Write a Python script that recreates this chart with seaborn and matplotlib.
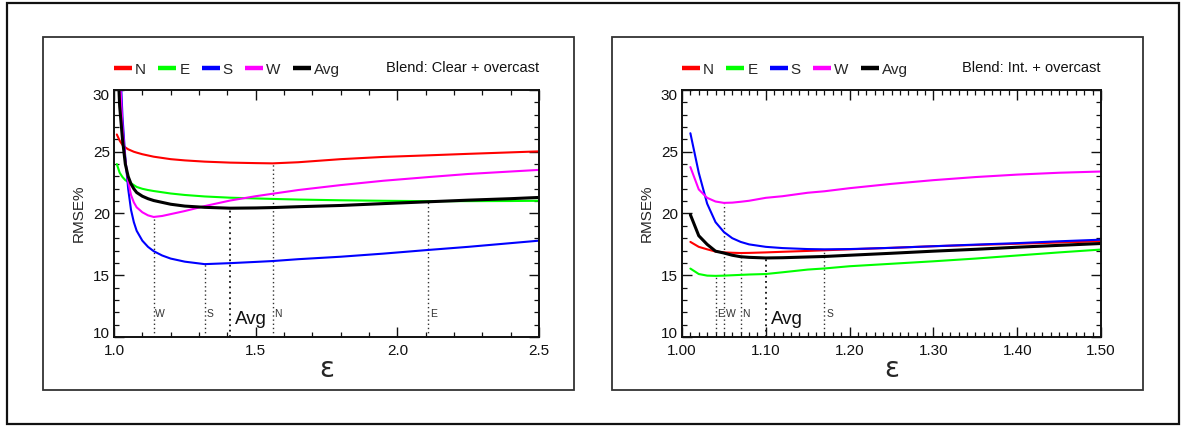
import numpy as np
import pandas as pd
import matplotlib
matplotlib.use("Agg")
import matplotlib.pyplot as plt
import matplotlib.transforms as mtrans
import seaborn as sns
from matplotlib.lines import Line2D
from matplotlib.patches import Rectangle
from matplotlib.ticker import MultipleLocator, FormatStrFormatter

# ---- Blend: clear + overcast -------------------------------------------
eps_a = [1.01, 1.02, 1.03, 1.04, 1.05, 1.06, 1.07, 1.08, 1.10, 1.12, 1.14,
         1.17, 1.20, 1.25, 1.32, 1.41, 1.50, 1.56, 1.65, 1.80, 1.95, 2.11,
         2.25, 2.40, 2.50]
n_a = [26.4, 25.9, 25.55, 25.35, 25.2, 25.1, 25.0, 24.93, 24.8, 24.7, 24.6,
       24.5, 24.4, 24.3, 24.2, 24.12, 24.08, 24.06, 24.15, 24.4, 24.58, 24.71,
       24.83, 24.95, 25.03]
e_a = [24.0, 23.3, 22.95, 22.7, 22.55, 22.45, 22.3, 22.15, 22.0, 21.9, 21.82,
       21.72, 21.62, 21.5, 21.38, 21.28, 21.22, 21.18, 21.13, 21.07, 21.03, 21.0,
       21.0, 21.01, 21.03]
s_a = [45.0, 33.0, 27.8, 24.5, 22.0, 20.3, 19.3, 18.6, 17.8, 17.3, 16.95,
       16.6, 16.35, 16.1, 15.9, 15.98, 16.08, 16.15, 16.3, 16.5, 16.75, 17.05,
       17.3, 17.6, 17.8]
w_a = [42.0, 31.5, 27.0, 24.3, 22.6, 21.5, 20.9, 20.5, 20.1, 19.85, 19.72,
       19.8, 19.95, 20.2, 20.6, 21.05, 21.4, 21.6, 21.9, 22.3, 22.65, 22.95,
       23.2, 23.4, 23.53]
avg_a = [34.0, 28.7, 26.0, 24.0, 23.0, 22.4, 22.0, 21.7, 21.4, 21.2, 21.05,
         20.9, 20.75, 20.6, 20.5, 20.43, 20.45, 20.48, 20.55, 20.65, 20.8, 20.95,
         21.08, 21.2, 21.3]
best_a = {"W": 1.14, "S": 1.32, "Avg": 1.41, "N": 1.56, "E": 2.11}

# ---- Blend: intermediate + overcast ------------------------------------
eps_b = [1.01, 1.02, 1.03, 1.04, 1.05, 1.06, 1.07, 1.08, 1.10, 1.12, 1.15,
         1.17, 1.20, 1.25, 1.30, 1.35, 1.40, 1.45, 1.50]
n_b = [17.7, 17.3, 17.1, 16.92, 16.85, 16.82, 16.8, 16.81, 16.85, 16.9, 16.97,
       17.02, 17.1, 17.22, 17.35, 17.45, 17.55, 17.65, 17.75]
e_b = [15.54, 15.1, 14.97, 14.95, 14.97, 15.0, 15.03, 15.06, 15.1, 15.24, 15.46,
       15.55, 15.73, 15.93, 16.13, 16.35, 16.6, 16.85, 17.08]
s_b = [26.5, 23.3, 20.8, 19.3, 18.5, 18.0, 17.7, 17.5, 17.3, 17.2, 17.12,
       17.1, 17.12, 17.22, 17.35, 17.48, 17.6, 17.75, 17.88]
w_b = [23.76, 21.95, 21.27, 20.97, 20.86, 20.88, 20.95, 21.03, 21.27, 21.4, 21.68,
       21.8, 22.05, 22.4, 22.7, 22.95, 23.15, 23.3, 23.4]
avg_b = [19.9, 18.2, 17.5, 16.95, 16.8, 16.62, 16.5, 16.45, 16.4, 16.42, 16.48,
         16.52, 16.62, 16.78, 16.95, 17.1, 17.27, 17.42, 17.57]
best_b = {"E": 1.04, "W": 1.05, "N": 1.07, "Avg": 1.10, "S": 1.17}

names = ["N", "E", "S", "W", "Avg"]
colors = {"N": "#ff0000", "E": "#00ff00", "S": "#0000ff", "W": "#ff00ff", "Avg": "#000000"}
widths = {"N": 1.5, "E": 1.5, "S": 1.5, "W": 1.5, "Avg": 2.2}

sns.set_theme(style="ticks")
plt.rcParams["font.family"] = ["Liberation Sans", "DejaVu Sans"]
plt.rcParams["axes.linewidth"] = 1.4

fig = plt.figure(figsize=(11.83, 4.26), dpi=100)
W, H = 1183, 426


def px_rect(x0, y0, x1, y1):
    return [x0 / W, (H - y1) / H, (x1 - x0) / W, (y1 - y0) / H]


# outer frame and the two panel frames
outer = px_rect(7, 3, 1179, 424)
fig.add_artist(Rectangle(outer[:2], outer[2], outer[3], transform=fig.transFigure,
                         fill=False, lw=1.6, ec="#111111"))
for box in (px_rect(43, 37, 574, 390), px_rect(612, 37, 1143, 390)):
    fig.add_artist(Rectangle(box[:2], box[2], box[3], transform=fig.transFigure,
                             fill=False, lw=1.3, ec="#333333"))

ax_a = fig.add_axes(px_rect(114, 90, 539, 337))
ax_b = fig.add_axes(px_rect(682, 90, 1101, 337))


def draw_panel(ax, eps, series, best, xlim, xmajor, xminor, fmt, blend):
    df = pd.DataFrame({"eps": eps, **series})
    for name in names:
        sns.lineplot(data=df, x="eps", y=name, ax=ax, color=colors[name],
                     lw=widths[name], estimator=None, sort=False, legend=False)
    # dotted markers at each curve's best epsilon
    for name, xb in best.items():
        top = float(np.interp(xb, df["eps"], df[name]))
        is_avg = name == "Avg"
        ax.vlines(xb, 10, top, colors="#111111" if is_avg else "#333333",
                  linestyles=(0, (1, 2)), lw=1.3 if is_avg else 1.0, zorder=1)
        if is_avg:
            ax.annotate("Avg", (xb, 11.4), xytext=(3.5, 0), textcoords="offset points",
                        ha="left", va="center", fontsize=13.5, color="#111111")
        else:
            ax.annotate(name, (xb, 11.85), xytext=(1.2, 0), textcoords="offset points",
                        ha="left", va="center", fontsize=7.5, color="#333333")

    ax.set_xlim(*xlim)
    ax.set_ylim(10, 30)
    ax.xaxis.set_major_locator(MultipleLocator(xmajor))
    ax.xaxis.set_minor_locator(MultipleLocator(xminor))
    ax.xaxis.set_major_formatter(FormatStrFormatter(fmt))
    ax.yaxis.set_major_locator(MultipleLocator(5))
    ax.yaxis.set_minor_locator(MultipleLocator(1))
    ax.tick_params(which="both", direction="in", top=True, right=True,
                   colors="#111111", labelsize=11)
    ax.tick_params(which="major", length=7, width=1.0, pad=5)
    ax.tick_params(which="minor", length=3.5, width=0.9)
    ax.tick_params(axis="y", which="major", pad=3)
    for sp in ax.spines.values():
        sp.set_color("#111111")
        sp.set_visible(True)
    ax.set_xlabel("ε", fontsize=20, labelpad=-2, family=["DejaVu Sans"])
    ax.set_ylabel("RMSE%", fontsize=11, labelpad=5)

    handles = [Line2D([], [], color=colors[n], lw=3.2, solid_capstyle="butt") for n in names]
    ax.legend(handles, names, ncol=5, loc="center left", bbox_to_anchor=(0.0, 1.082),
              frameon=False, fontsize=11, handlelength=1.18, handletextpad=0.2,
              columnspacing=0.8, borderaxespad=0, borderpad=0)
    ax.text(1.0, 1.09, blend, transform=ax.transAxes, ha="right", va="center",
            fontsize=10.5, color="#111111")


draw_panel(ax_a, eps_a, {"N": n_a, "E": e_a, "S": s_a, "W": w_a, "Avg": avg_a},
           best_a, (1.0, 2.5), 0.5, 0.1, "%.1f", "Blend: Clear + overcast")
draw_panel(ax_b, eps_b, {"N": n_b, "E": e_b, "S": s_b, "W": w_b, "Avg": avg_b},
           best_b, (1.0, 1.5), 0.1, 0.01, "%.2f", "Blend: Int. + overcast")

# keep the end labels of the y axis inside the frame
fig.canvas.draw()
for ax in (ax_a, ax_b):
    for tick in ax.yaxis.get_major_ticks():
        val = tick.get_loc()
        if np.isclose(val, 30):
            tick.label1.set_transform(tick.label1.get_transform()
                                      + mtrans.ScaledTranslation(0, -3 / 72, fig.dpi_scale_trans))
        elif np.isclose(val, 10):
            tick.label1.set_transform(tick.label1.get_transform()
                                      + mtrans.ScaledTranslation(0, 3.5 / 72, fig.dpi_scale_trans))

fig.savefig("out.png", dpi=100, facecolor="white")
